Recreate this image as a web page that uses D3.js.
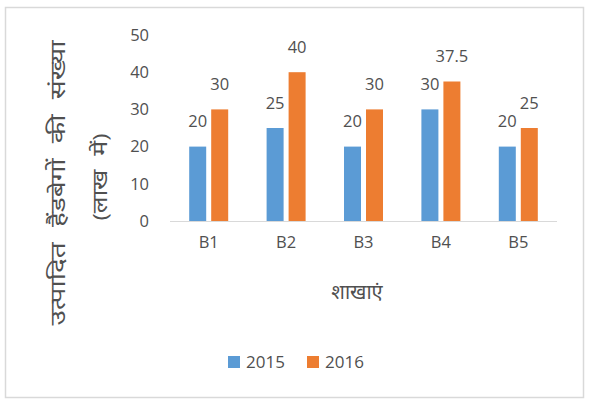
<!DOCTYPE html>
<html><head><meta charset="utf-8">
<script src="https://cdn.jsdelivr.net/npm/d3@7"></script>
<style>
body{margin:0;background:#fff;}
text{font-family:"Open Sans","Noto Sans",sans-serif;fill:#505050;}
</style></head>
<body><svg id="c" width="596" height="417"></svg>
<script>
const categories = ["B1","B2","B3","B4","B5"];
const seriesNames = ["2015","2016"];
const values2015 = [20,25,20,30,20];
const values2016 = [30,40,30,37.5,25];
const yTicks = [0,10,20,30,40,50];
const colors = ["#5B9BD5","#ED7D31"];
const yTitle1 = "उत्पादित हैंडबेगों की संख्या";
const yTitle2 = "(लाख में)";
const xTitle = "शाखाएं";

const svg = d3.select("#c");
svg.append("rect").attr("x",5.5).attr("y",7.5).attr("width",578).attr("height",390)
  .attr("fill","#fff").attr("stroke","#D9D9D9").attr("stroke-width",1.5);

const x = d3.scaleBand().domain(categories).range([170,557]);
const y = d3.scaleLinear().domain([0,50]).range([221,35]);
const series = [values2015, values2016];
const barW = 17, gap = 5;

// y tick labels
svg.selectAll(".yt").data(yTicks).enter().append("text")
  .attr("x",149).attr("y",d=>y(d)).attr("dy","0.35em").attr("text-anchor","end")
  .attr("font-size",16.5).text(d=>d);

// bars
series.forEach((vals,si)=>{
  const off = si===0 ? -(barW+gap/2) : gap/2;
  svg.selectAll(".b"+si).data(vals).enter().append("rect")
    .attr("x",(d,i)=>x(categories[i])+x.bandwidth()/2+off)
    .attr("y",d=>y(d)).attr("width",barW).attr("height",d=>y(0)-y(d))
    .attr("fill",colors[si]);
  svg.selectAll(".l"+si).data(vals).enter().append("text")
    .attr("x",(d,i)=>x(categories[i])+x.bandwidth()/2+off+barW/2)
    .attr("y",d=>y(d)-25).attr("dy","0.35em").attr("text-anchor","middle").attr("font-size",16.5)
    .text(d=>d);
});

// x axis line
svg.append("line").attr("x1",170).attr("x2",557).attr("y1",221.5).attr("y2",221.5)
  .attr("stroke","#D9D9D9").attr("stroke-width",1);

// category labels
svg.selectAll(".xt").data(categories).enter().append("text")
  .attr("x",d=>x(d)+x.bandwidth()/2).attr("y",242).attr("dy","0.35em")
  .attr("text-anchor","middle").attr("font-size",16.5).text(d=>d);

// x title
svg.append("text").attr("x",357).attr("y",292).attr("dy","0.35em").attr("text-anchor","middle")
  .attr("font-size",20).text(xTitle);

// y titles (stretched along the reading direction to match the reference span)
function stretchedTitle(txt, cx, cy, size, targetLen){
  const g = svg.append("g").attr("transform",`translate(${cx},${cy}) rotate(-90)`);
  const t = g.append("text").attr("dy","0.35em").attr("text-anchor","middle")
    .attr("font-size",size).attr("word-spacing","6px").text(txt);
  const len = t.node().getComputedTextLength();
  t.attr("transform",`scale(${targetLen/len},1)`);
}
stretchedTitle(yTitle1, 58, 183, 21, 285);
stretchedTitle(yTitle2, 100, 177, 20, 87);

// legend
const leg = [{n:seriesNames[0],x:228,c:colors[0]},{n:seriesNames[1],x:307,c:colors[1]}];
leg.forEach(l=>{
  svg.append("rect").attr("x",l.x).attr("y",356).attr("width",12).attr("height",12).attr("fill",l.c);
  svg.append("text").attr("x",l.x+18).attr("y",362).attr("dy","0.35em").attr("font-size",17).text(l.n);
});
</script></body></html>
